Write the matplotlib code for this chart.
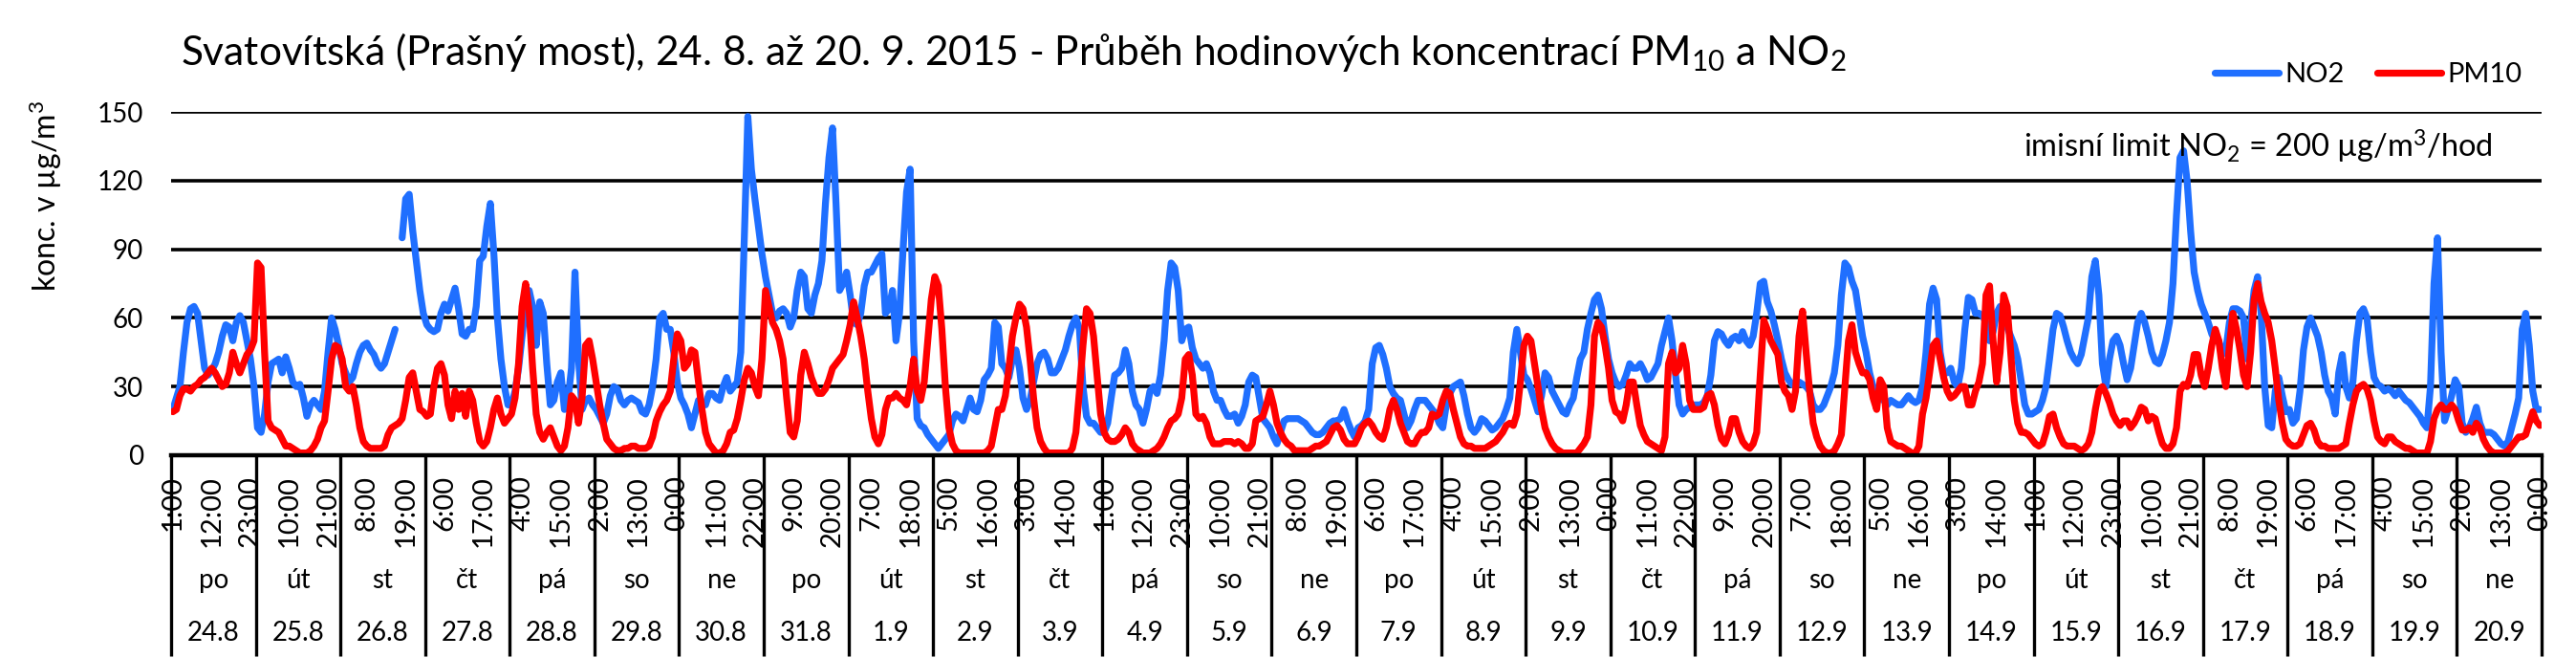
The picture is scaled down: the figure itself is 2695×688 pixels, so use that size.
import numpy as np
import matplotlib
matplotlib.use("Agg")
import matplotlib.pyplot as plt
import matplotlib.transforms as mtransforms
from matplotlib import font_manager

# ---------------- data ----------------
days = ["po", "út", "st", "čt", "pá", "so", "ne"] * 4
dates = ["24.8", "25.8", "26.8", "27.8", "28.8", "29.8", "30.8", "31.8",
         "1.9", "2.9", "3.9", "4.9", "5.9", "6.9", "7.9", "8.9", "9.9",
         "10.9", "11.9", "12.9", "13.9", "14.9", "15.9", "16.9", "17.9",
         "18.9", "19.9", "20.9"]
hour_labels = ["1:00", "12:00", "23:00", "10:00", "21:00", "8:00", "19:00", "6:00",
               "17:00", "4:00", "15:00", "2:00", "13:00", "0:00", "11:00", "22:00",
               "9:00", "20:00", "7:00", "18:00", "5:00", "16:00", "3:00", "14:00",
               "1:00", "12:00", "23:00", "10:00", "21:00", "8:00", "19:00", "6:00",
               "17:00", "4:00", "15:00", "2:00", "13:00", "0:00", "11:00", "22:00",
               "9:00", "20:00", "7:00", "18:00", "5:00", "16:00", "3:00", "14:00",
               "1:00", "12:00", "23:00", "10:00", "21:00", "8:00", "19:00", "6:00",
               "17:00", "4:00", "15:00", "2:00", "13:00", "0:00"]
nan = np.nan
no2 = [
    20, 25, 30, 45, 58, 64, 65, 62, 50, 38, 35, 37, 40, 45, 52, 57, 56, 50, 58, 61, 58, 50, 42, 30,
    12, 10, 18, 32, 40, 41, 42, 36, 43, 38, 32, 30, 31, 25, 17, 22, 24, 22, 20, 28, 45, 60, 55, 48,
    40, 36, 32, 34, 40, 45, 48, 49, 46, 44, 40, 38, 40, 45, 50, 55, nan, 95, 112, 114, 98, 85, 72, 62,
    57, 55, 54, 55, 62, 66, 63, 68, 73, 64, 53, 52, 55, 55, 65, 85, 87, 100, 110, 88, 60, 42, 30, 22,
    22, 28, 38, 52, 66, 72, 65, 48, 67, 62, 40, 22, 24, 32, 36, 20, 24, 38, 80, 42, 20, 24, 25, 22,
    20, 17, 14, 18, 26, 30, 29, 24, 22, 24, 25, 24, 23, 19, 18, 22, 30, 42, 60, 62, 55, 55, 45, 32,
    25, 22, 18, 12, 18, 24, 23, 22, 27, 27, 25, 24, 30, 34, 28, 30, 32, 45, 95, 148, 125, 112, 100, 88,
    78, 70, 62, 60, 63, 64, 62, 56, 60, 72, 80, 78, 64, 62, 70, 75, 85, 110, 130, 143, 110, 72, 75, 80,
    70, 58, 57, 62, 74, 80, 80, 83, 86, 88, 62, 64, 72, 50, 62, 90, 115, 125, 50, 16, 13, 12, 9, 7,
    5, 3, 5, 7, 9, 15, 18, 17, 15, 20, 25, 20, 19, 24, 33, 35, 38, 58, 56, 40, 38, 34, 42, 46,
    38, 25, 20, 24, 32, 40, 44, 45, 42, 36, 36, 38, 42, 46, 52, 57, 60, 55, 30, 17, 14, 14, 12, 10,
    10, 14, 25, 35, 36, 38, 46, 40, 28, 22, 20, 14, 20, 28, 30, 27, 35, 50, 72, 84, 82, 72, 50, 55,
    56, 47, 42, 40, 38, 40, 36, 28, 24, 24, 20, 17, 17, 18, 14, 17, 22, 32, 35, 34, 25, 16, 14, 12,
    8, 5, 10, 15, 16, 16, 16, 16, 15, 14, 12, 10, 9, 9, 10, 12, 14, 15, 15, 16, 20, 15, 11, 8,
    12, 13, 15, 20, 40, 47, 48, 44, 38, 30, 27, 25, 24, 18, 12, 15, 20, 24, 24, 24, 22, 20, 18, 14,
    12, 22, 27, 30, 31, 32, 26, 18, 12, 10, 12, 16, 15, 13, 11, 12, 14, 16, 20, 25, 45, 55, 45, 35,
    33, 29, 24, 19, 26, 36, 34, 28, 25, 22, 19, 18, 22, 25, 34, 42, 45, 55, 62, 68, 70, 64, 52, 42,
    36, 32, 30, 31, 35, 40, 38, 38, 40, 37, 33, 34, 37, 40, 48, 54, 60, 50, 35, 22, 18, 20, 21, 22,
    22, 22, 23, 26, 35, 50, 54, 53, 50, 48, 51, 52, 50, 54, 50, 48, 52, 62, 75, 76, 67, 63, 57, 50,
    42, 36, 33, 31, 30, 32, 31, 30, 28, 22, 20, 20, 22, 26, 30, 36, 48, 70, 84, 82, 76, 72, 62, 52,
    45, 36, 30, 25, 25, 24, 22, 24, 23, 22, 22, 24, 26, 24, 23, 24, 30, 45, 66, 73, 68, 45, 36, 36,
    38, 32, 30, 38, 55, 69, 68, 62, 62, 61, 58, 50, 54, 62, 65, 60, 56, 52, 48, 42, 32, 22, 18, 18,
    19, 20, 24, 30, 42, 55, 62, 61, 56, 50, 45, 42, 40, 44, 52, 60, 78, 85, 70, 40, 30, 42, 50, 52,
    48, 40, 33, 38, 48, 58, 62, 58, 52, 45, 41, 40, 44, 50, 58, 75, 105, 130, 133, 120, 98, 80, 72, 66,
    62, 58, 53, 50, 50, 44, 46, 58, 64, 64, 63, 60, 42, 57, 72, 78, 62, 30, 13, 12, 28, 34, 26, 19,
    20, 14, 16, 28, 46, 56, 60, 56, 52, 45, 35, 28, 25, 18, 36, 44, 30, 25, 32, 50, 62, 64, 60, 45,
    34, 31, 30, 28, 29, 28, 26, 28, 26, 24, 23, 21, 19, 17, 14, 12, 30, 75, 95, 45, 15, 20, 26, 33,
    30, 14, 10, 12, 16, 21, 14, 10, 10, 10, 9, 7, 5, 4, 6, 12, 18, 25, 55, 62, 48, 28, 20, 20,
]
pm10 = [
    19, 20, 26, 29, 29, 28, 30, 31, 33, 34, 36, 38, 36, 33, 30, 31, 36, 45, 40, 36, 40, 44, 46, 50,
    84, 82, 45, 15, 12, 11, 10, 7, 4, 4, 3, 2, 1, 1, 1, 2, 4, 7, 12, 15, 28, 42, 48, 47,
    42, 30, 28, 30, 22, 12, 6, 4, 3, 3, 3, 3, 4, 9, 12, 13, 14, 16, 24, 34, 36, 28, 20, 19,
    17, 18, 30, 38, 40, 35, 22, 16, 28, 20, 27, 17, 28, 24, 14, 6, 4, 6, 12, 20, 25, 18, 14, 16,
    18, 25, 40, 65, 75, 63, 38, 18, 10, 7, 10, 12, 8, 4, 2, 4, 12, 26, 24, 14, 25, 48, 50, 42,
    32, 22, 14, 7, 5, 3, 2, 2, 3, 3, 4, 4, 3, 3, 3, 4, 8, 15, 19, 22, 24, 28, 42, 53,
    50, 38, 40, 46, 45, 32, 20, 10, 5, 3, 1, 1, 2, 5, 10, 11, 16, 24, 33, 38, 36, 30, 26, 42,
    72, 65, 58, 55, 50, 42, 25, 10, 8, 15, 35, 45, 40, 34, 30, 27, 27, 29, 33, 38, 40, 42, 44, 50,
    57, 67, 60, 52, 42, 28, 16, 8, 5, 9, 20, 25, 25, 27, 25, 24, 22, 30, 42, 28, 24, 32, 50, 68,
    78, 74, 55, 30, 12, 5, 2, 1, 1, 1, 1, 1, 1, 1, 1, 2, 4, 12, 20, 20, 26, 38, 52, 60,
    66, 64, 56, 42, 25, 12, 6, 3, 1, 1, 1, 1, 1, 1, 1, 3, 10, 28, 48, 64, 62, 52, 35, 18,
    10, 7, 6, 6, 7, 9, 12, 10, 5, 3, 2, 1, 1, 1, 2, 3, 5, 8, 12, 15, 16, 18, 25, 42,
    44, 35, 18, 16, 17, 14, 8, 5, 5, 5, 6, 6, 6, 5, 6, 5, 3, 3, 5, 15, 16, 17, 22, 28,
    22, 14, 10, 7, 5, 4, 2, 2, 2, 2, 2, 3, 4, 4, 5, 6, 9, 12, 13, 11, 7, 5, 5, 5,
    8, 12, 14, 15, 13, 10, 8, 7, 12, 20, 24, 20, 14, 10, 6, 5, 5, 8, 10, 10, 12, 18, 17, 18,
    24, 28, 27, 20, 14, 8, 5, 4, 4, 3, 3, 3, 3, 4, 5, 6, 8, 10, 13, 14, 13, 18, 32, 48,
    52, 50, 40, 30, 20, 12, 8, 5, 3, 2, 1, 1, 1, 1, 1, 3, 5, 8, 22, 52, 58, 56, 48, 38,
    24, 19, 18, 15, 22, 32, 32, 22, 13, 9, 6, 5, 4, 3, 2, 8, 40, 45, 36, 38, 48, 40, 24, 20,
    20, 20, 21, 26, 27, 22, 13, 7, 5, 9, 16, 16, 10, 6, 4, 3, 5, 10, 35, 59, 55, 50, 47, 44,
    32, 28, 26, 20, 28, 52, 63, 45, 28, 14, 8, 4, 2, 1, 1, 2, 5, 9, 30, 50, 57, 45, 40, 36,
    36, 33, 25, 20, 33, 30, 12, 6, 5, 4, 4, 3, 2, 1, 1, 4, 18, 25, 36, 48, 50, 42, 34, 28,
    25, 26, 28, 30, 30, 22, 22, 28, 32, 40, 70, 74, 50, 32, 45, 70, 65, 45, 24, 14, 10, 10, 9, 7,
    5, 4, 5, 10, 17, 18, 12, 8, 5, 4, 4, 4, 3, 2, 3, 5, 10, 20, 28, 30, 27, 23, 18, 15,
    13, 15, 15, 12, 14, 17, 21, 20, 15, 17, 16, 10, 5, 3, 3, 5, 12, 28, 31, 30, 35, 44, 44, 35,
    30, 38, 48, 55, 50, 38, 30, 48, 62, 55, 46, 35, 30, 45, 68, 75, 67, 62, 58, 50, 38, 24, 14, 7,
    5, 4, 4, 5, 9, 13, 14, 11, 6, 4, 4, 3, 3, 3, 3, 4, 5, 14, 22, 28, 30, 31, 29, 24,
    15, 8, 6, 5, 8, 8, 6, 5, 4, 3, 3, 2, 1, 1, 1, 1, 6, 16, 20, 22, 20, 20, 22, 20,
    15, 11, 11, 12, 10, 14, 12, 7, 4, 2, 1, 1, 1, 1, 2, 4, 6, 8, 8, 9, 14, 19, 15, 13,
]
y_ticks = [0, 30, 60, 90, 120, 150]
title = ("Svatovítská (Prašný most), 24. 8. až 20. 9. 2015 - Průběh hodinových "
         "koncentrací PM$_{\\mathrm{10}}$ a NO$_{\\mathrm{2}}$")
note = "imisní limit NO$_{\\mathrm{2}}$ = 200 µg/m$^{\\mathrm{3}}$/hod"
ylabel = "konc. v µg/m$^{\\mathrm{3}}$"

# ---------------- fonts ----------------
avail = {f.name for f in font_manager.fontManager.ttflist}
main_font = "Lato" if "Lato" in avail else "DejaVu Sans"
plt.rcParams["font.family"] = [main_font, "DejaVu Sans"]
plt.rcParams["mathtext.fontset"] = "custom"
plt.rcParams["mathtext.rm"] = main_font
plt.rcParams["mathtext.it"] = main_font + ":italic"
plt.rcParams["mathtext.bf"] = main_font + ":bold"

BLUE = "#1f6fff"
RED = "#ff0000"
LW = 5.2

W, H = 2695, 688
fig = plt.figure(figsize=(W / 100, H / 100), dpi=100)
x0, x1, y0, y1 = 179, 2659, 476, 117
ax = fig.add_axes([x0 / W, 1 - y0 / H, (x1 - x0) / W, (y0 - y1) / H])

n = len(no2)
x = np.arange(n)
no2_arr = np.array(no2, dtype=float)
pm_arr = np.array(pm10, dtype=float)

l1, = ax.plot(x, no2_arr, color=BLUE, lw=LW, solid_joinstyle="round",
              solid_capstyle="round", label="NO2", zorder=3)
l2, = ax.plot(x, pm_arr, color=RED, lw=LW, solid_joinstyle="round",
              solid_capstyle="round", label="PM10", zorder=4)

ax.set_xlim(-0.5, n - 0.5)
ax.set_ylim(0, 150)
ax.set_yticks(y_ticks)
ax.yaxis.grid(True, color="black", lw=2.6)
ax.set_axisbelow(True)
for s in ["top", "right", "left"]:
    ax.spines[s].set_visible(False)
ax.spines["bottom"].set_linewidth(3.2)
ax.spines["bottom"].set_color("black")
ax.spines["bottom"].set_zorder(5)
ax.tick_params(axis="y", length=0, pad=21, labelsize=20)

tick_pos = np.arange(0, n, 11)
ax.set_xticks(tick_pos)
ax.set_xticklabels(hour_labels, rotation=90)
ax.tick_params(axis="x", length=0, pad=15, labelsize=21)

# category table: separators, day names and dates
trans = mtransforms.blended_transform_factory(ax.transData, ax.transAxes)
bottom = (y0 - (H - 2)) / (y0 - y1)
for k in range(len(dates) + 1):
    xs = 24 * k - 0.5
    ax.plot([xs, xs], [0, bottom], transform=trans, color="black", lw=2.4,
            clip_on=False, zorder=5, solid_capstyle="butt")
day_y = (y0 - 607) / (y0 - y1)
date_y = (y0 - 662) / (y0 - y1)
for k, (d, dt) in enumerate(zip(days, dates)):
    xc = 24 * k + 11.5
    ax.text(xc, day_y, d, transform=trans, ha="center", va="center", fontsize=20)
    ax.text(xc, date_y, dt, transform=trans, ha="center", va="center", fontsize=20)

# titles and labels
fig.text(189 / W, 1 - 68 / H, title, ha="left", va="baseline", fontsize=30.5)
fig.text(48 / W, 1 - 205 / H, ylabel, rotation=90, ha="center", va="center",
         fontsize=23)
ax.text((2608 - x0) / (x1 - x0), (y0 - 165) / (y0 - y1), note,
        transform=ax.transAxes, ha="right", va="baseline", fontsize=23.5, zorder=6)

ax.legend(handles=[l1, l2], labels=["NO2", "PM10"], loc="center left",
          bbox_to_anchor=(2317 / W, 1 - 78 / H), bbox_transform=fig.transFigure,
          ncol=2, frameon=False, fontsize=21, handlelength=2.3,
          handletextpad=0.2, columnspacing=1.2, borderpad=0, borderaxespad=0)

fig.savefig("out.png", dpi=100)
